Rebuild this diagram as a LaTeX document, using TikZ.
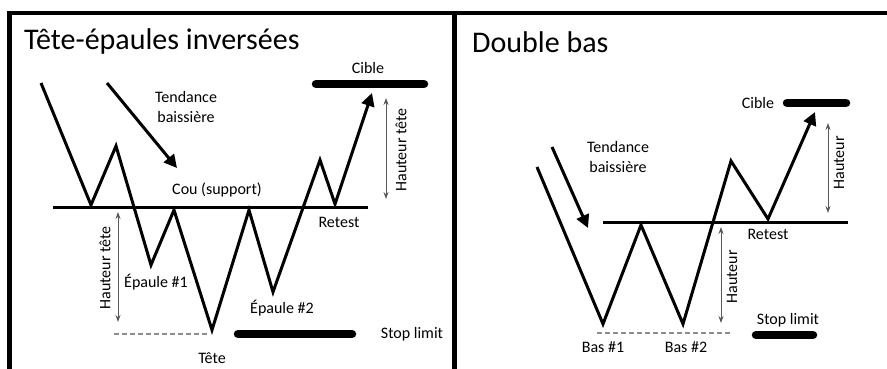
\documentclass[tikz,border=0pt]{standalone}
\usepackage{fontspec}
\setmainfont{Carlito}
\usetikzlibrary{arrows.meta,positioning}

\begin{document}
\begin{tikzpicture}[
    x=1pt, y=-1pt,
    price/.style={line width=3pt, line join=miter, -{Triangle[length=13pt,width=13pt]}},
    trend/.style={line width=3pt, -{Triangle[length=13pt,width=13pt]}},
    neck/.style={line width=3pt},
    level/.style={line width=8.5pt, line cap=round},
    mesure/.style={draw=black!65, line width=0.9pt, {Stealth[length=7pt,width=5pt]}-{Stealth[length=7pt,width=5pt]}},
    guide/.style={draw=black!45, line width=2pt, dash pattern=on 4.5pt off 3.5pt},
    lbl/.style={font=\fontsize{16}{20}\selectfont, inner sep=1pt, align=center},
    titre/.style={font=\fontsize{30}{34}\selectfont, inner sep=0pt, anchor=west}
]
    \useasboundingbox (0,0) rectangle (887,369);

    % Cadre
    \coordinate (cb) at (9.5,369);
    \coordinate (ch) at (9.5,13);
    \coordinate (cd) at (887,13);
    \coordinate (mh) at (454.5,13);
    \coordinate (mb) at (454.5,369);
    \draw[line width=4.5pt] (cb) -- (ch) -- (cd);
    \draw[line width=4.5pt] (mh) -- (mb);

    % Tete-epaules inversees
    \begin{scope}[shift={(0,0)}]
        \node[titre] (titre1) at (24,42) {Tête-épaules inversées};
        \coordinate (p0) at (41,83);
        \coordinate (p1) at (91,205);
        \coordinate (p2) at (116,146);
        \coordinate (p3) at (151,265);
        \coordinate (p4) at (174,210);
        \coordinate (p5) at (212,330);
        \coordinate (p6) at (249,210);
        \coordinate (p7) at (273,292);
        \coordinate (p8) at (320,160);
        \coordinate (p9) at (335,204);
        \coordinate (p10) at (372,93);
        \draw[price] (p0) -- (p1) -- (p2) -- (p3) -- (p4) -- (p5) -- (p6) -- (p7) -- (p8) -- (p9) -- (p10);
        \coordinate (cou1a) at (53,207);
        \coordinate (cou1b) at (368,207);
        \draw[neck] (cou1a) -- (cou1b);
        \node[lbl] (cou1) at (217,190) {Cou (support)};
        \node[lbl] (retest1) at (339,222) {Retest};
        % tendance
        \coordinate (tr1a) at (107,83);
        \coordinate (tr1b) at (177,168);
        \draw[trend] (tr1a) -- (tr1b);
        \node[lbl] (tend1) at (186,107) {Tendance\\baissière};
        % cible et stop
        \coordinate (ci1a) at (316,84);
        \coordinate (ci1b) at (424,84);
        \draw[level] (ci1a) -- (ci1b);
        \node[lbl] (cible1) at (368,68) {Cible};
        \coordinate (st1a) at (238,334);
        \coordinate (st1b) at (352,334);
        \draw[level] (st1a) -- (st1b);
        \node[lbl] (stop1) at (412,334) {Stop limit};
        \coordinate (g1a) at (114,334);
        \coordinate (g1b) at (207,334);
        \draw[guide] (g1a) -- (g1b);
        % hauteurs
        \coordinate (h1a) at (118,212);
        \coordinate (h1b) at (118,322);
        \draw[mesure] (h1a) -- (h1b);
        \node[lbl, rotate=90] (haut1) at (105,268) {Hauteur tête};
        \coordinate (h2a) at (386,98);
        \coordinate (h2b) at (386,199);
        \draw[mesure] (h2a) -- (h2b);
        \node[lbl, rotate=90] (haut2) at (401,150) {Hauteur tête};
        \node[lbl] (ep1) at (156,282) {Épaule \#1};
        \node[lbl] (ep2) at (282,308) {Épaule \#2};
        \node[lbl] (tete) at (212,358) {Tête};
    \end{scope}

    % Double bas
    \begin{scope}[shift={(440,0)}]
        \node[titre] (titre2) at (32,42) {Double bas};
        \coordinate (q0) at (97,167);
        \coordinate (q1) at (163,324);
        \coordinate (q2) at (201,225);
        \coordinate (q3) at (243,324);
        \coordinate (q4) at (291,161);
        \coordinate (q5) at (328,219);
        \coordinate (q6) at (375,112);
        \draw[price] (q0) -- (q1) -- (q2) -- (q3) -- (q4) -- (q5) -- (q6);
        \coordinate (cou2a) at (163,222);
        \coordinate (cou2b) at (408,222);
        \draw[neck] (cou2a) -- (cou2b);
        \node[lbl] (retest2) at (328,234) {Retest};
        % tendance
        \coordinate (tr2a) at (112,147);
        \coordinate (tr2b) at (148,228);
        \draw[trend] (tr2a) -- (tr2b);
        \node[lbl] (tend2) at (178,157) {Tendance\\baissière};
        % cible et stop
        \coordinate (ci2a) at (347,103);
        \coordinate (ci2b) at (406,103);
        \draw[level] (ci2a) -- (ci2b);
        \node[lbl] (cible2) at (318,103) {Cible};
        \coordinate (st2a) at (316,335);
        \coordinate (st2b) at (373,335);
        \draw[level] (st2a) -- (st2b);
        \node[lbl] (stop2) at (348,320) {Stop limit};
        \coordinate (g2a) at (157,333);
        \coordinate (g2b) at (293,333);
        \draw[guide] (g2a) -- (g2b);
        % hauteurs
        \coordinate (h3a) at (281,227);
        \coordinate (h3b) at (281,323);
        \draw[mesure] (h3a) -- (h3b);
        \node[lbl, rotate=90] (haut3) at (292,277) {Hauteur};
        \coordinate (h4a) at (388,123);
        \coordinate (h4b) at (388,213);
        \draw[mesure] (h4a) -- (h4b);
        \node[lbl, rotate=90] (haut4) at (399,163) {Hauteur};
        \node[lbl] (bas1) at (163,347) {Bas \#1};
        \node[lbl] (bas2) at (246,347) {Bas \#2};
    \end{scope}
\end{tikzpicture}
\end{document}
